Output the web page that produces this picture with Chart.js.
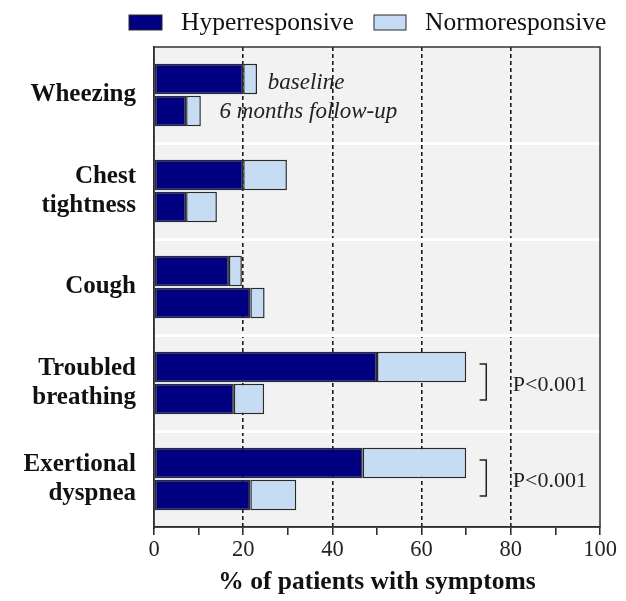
<!DOCTYPE html>
<html>
<head>
<meta charset="utf-8">
<script src="https://cdn.jsdelivr.net/npm/chart.js@4.4.0/dist/chart.umd.min.js"></script>
<style>
    html, body { margin: 0; padding: 0; background: #fff; }
</style>
</head>
<body>
<canvas id="myChart" width="626" height="601"></canvas>
<script>
// Symptom categories (y axis)
var symptoms = [['Wheezing'], ['Chest', 'tightness'], ['Cough'], ['Troubled', 'breathing'], ['Exertional', 'dyspnea']];

// % of patients, baseline
var hyperBaseline = [20, 20, 16.8, 50, 46.8];
var normoBaseline = [3.1, 9.8, 2.9, 20, 23.2];

// % of patients, 6 months follow-up
var hyperFollowup = [7.2, 7.2, 21.6, 17.9, 21.6];
var normoFollowup = [3.3, 6.9, 3.2, 6.8, 10.3];

// significance notes per category
var pLabels = ['', '', '', 'P<0.001', 'P<0.001'];

var xTickLabels = [0, 20, 40, 60, 80, 100];

var serif = '"Liberation Serif", "Times New Roman", serif';
var darkBlue = '#000080';
var lightBlue = '#c6dcf5';
var edge = '#2a2a2a';

// background, frame, legend and text notes
var decorations = {
    id: 'decorations',
    beforeDraw: function (chart) {
        var a = chart.chartArea;
        var c = chart.ctx;
        c.save();
        c.fillStyle = '#f2f2f2';
        c.fillRect(a.left, a.top, a.right - a.left, a.bottom - a.top);
        c.restore();
    },
    afterDraw: function (chart) {
        var a = chart.chartArea;
        var c = chart.ctx;
        var xs = chart.scales.x;
        var ys = chart.scales.y;

        c.save();
        c.strokeStyle = '#333';
        c.lineWidth = 1.5;
        c.strokeRect(a.left, a.top, a.right - a.left, a.bottom - a.top);

        // legend
        c.font = '25.5px ' + serif;
        c.textBaseline = 'middle';
        c.textAlign = 'left';
        c.fillStyle = darkBlue;
        c.fillRect(129, 15, 33, 15);
        c.strokeStyle = edge;
        c.lineWidth = 1;
        c.strokeRect(129, 15, 33, 15);
        c.fillStyle = '#111';
        c.fillText('Hyperresponsive', 181, 23);
        c.fillStyle = lightBlue;
        c.fillRect(374, 15, 32, 15);
        c.strokeRect(374, 15, 32, 15);
        c.fillStyle = '#111';
        c.fillText('Normoresponsive', 425, 23);

        // bar labels for the first pair
        var y0 = ys.getPixelForValue(0);
        c.font = 'italic 23px ' + serif;
        c.fillStyle = '#222';
        c.fillText('baseline', xs.getPixelForValue(25.5), y0 - 12);
        c.fillText('6 months follow-up', xs.getPixelForValue(14.7), y0 + 17);

        // brackets with p values
        c.font = '22px ' + serif;
        c.strokeStyle = '#222';
        c.lineWidth = 1.5;
        for (var i = 0; i < pLabels.length; i++) {
            if (!pLabels[i]) continue;
            var cy = ys.getPixelForValue(i);
            var bx = xs.getPixelForValue(74.5);
            var lx = xs.getPixelForValue(73);
            c.beginPath();
            c.moveTo(lx, cy - 19);
            c.lineTo(bx, cy - 19);
            c.lineTo(bx, cy + 17);
            c.lineTo(lx, cy + 17);
            c.stroke();
            c.fillText(pLabels[i], xs.getPixelForValue(80) + 2, cy + 2);
        }
        c.restore();
    }
};

var ctx = document.getElementById('myChart').getContext('2d');
var myChart = new Chart(ctx, {
    type: 'bar',
    data: {
        labels: symptoms,
        datasets: [{
            label: 'Hyperresponsive',
            data: hyperBaseline,
            stack: 'baseline',
            backgroundColor: darkBlue
        }, {
            label: 'Normoresponsive',
            data: normoBaseline,
            stack: 'baseline',
            backgroundColor: lightBlue
        }, {
            label: 'Hyperresponsive',
            data: hyperFollowup,
            stack: 'followup',
            backgroundColor: darkBlue
        }, {
            label: 'Normoresponsive',
            data: normoFollowup,
            stack: 'followup',
            backgroundColor: lightBlue
        }]
    },
    options: {
        responsive: false,
        animation: false,
        indexAxis: 'y',
        datasets: {
            bar: {
                borderColor: edge,
                borderWidth: 1.5,
                borderSkipped: false,
                categoryPercentage: 0.67,
                barPercentage: 0.95
            }
        },
        layout: { padding: { top: 47, right: 26, left: 0, bottom: 0 } },
        plugins: {
            legend: { display: false },
            tooltip: { enabled: false }
        },
        scales: {
            x: {
                type: 'linear',
                min: 0,
                max: 100,
                stacked: true,
                ticks: {
                    stepSize: 10,
                    autoSkip: false,
                    maxRotation: 0,
                    padding: 2,
                    color: '#222',
                    font: { family: serif, size: 22.5 },
                    callback: function (v) { return xTickLabels.indexOf(v) >= 0 ? v : ''; }
                },
                grid: {
                    color: function (c) {
                        var v = c.tick ? c.tick.value : -1;
                        return (v % 20 === 0 && v > 0 && v < 100) ? '#1a1a1a' : 'rgba(0,0,0,0)';
                    },
                    lineWidth: 1.6,
                    tickColor: '#222',
                    tickLength: 8,
                    tickWidth: 1.5
                },
                border: { color: '#222', width: 1.5, dash: [4, 3] },
                title: {
                    display: true,
                    text: '% of patients with symptoms',
                    color: '#111',
                    font: { family: serif, size: 25.5, weight: 'bold' },
                    padding: { top: 0, bottom: 3 }
                },
                afterFit: function (s) { s.height = 74; }
            },
            y: {
                stacked: true,
                ticks: {
                    autoSkip: false,
                    padding: 18,
                    color: '#111',
                    font: { family: serif, size: 25, weight: 'bold', lineHeight: 1.16 }
                },
                grid: {
                    offset: true,
                    drawTicks: false,
                    lineWidth: 3,
                    color: function (c) {
                        return (c.type !== 'tick' || c.index === 0) ? 'rgba(0,0,0,0)' : '#fff';
                    }
                },
                border: { color: '#222', width: 1.5 },
                afterFit: function (s) { s.width = 154; }
            }
        }
    },
    plugins: [decorations]
});
</script>
</body>
</html>
